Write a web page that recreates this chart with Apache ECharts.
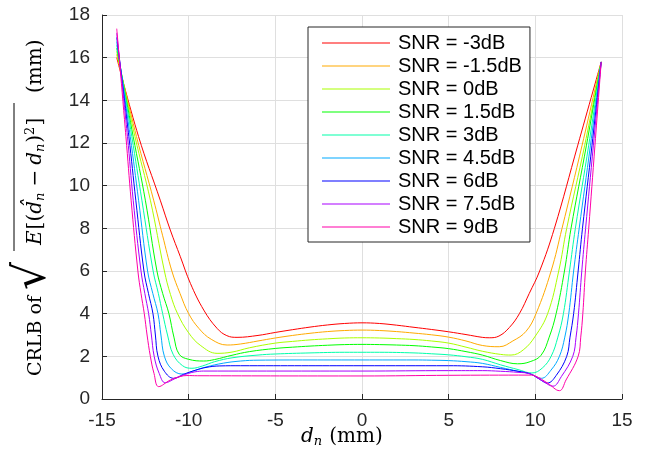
<!DOCTYPE html>
<html>
<head>
<meta charset="utf-8">
<script src="https://cdn.jsdelivr.net/npm/echarts@6/dist/echarts.min.js"></script>
<style>html,body{margin:0;padding:0;background:#fff}#c{width:648px;height:465px}</style>
</head>
<body>
<div id="c"></div>
<script>
// Series names (legend)
const seriesNames = ['SNR = -3dB','SNR = -1.5dB','SNR = 0dB','SNR = 1.5dB','SNR = 3dB','SNR = 4.5dB','SNR = 6dB','SNR = 7.5dB','SNR = 9dB'];
const seriesColors = ['#ff0000','#ffaa00','#aaff00','#00ff00','#00ffaa','#00aaff','#0000ff','#aa00ff','#ff00aa'];
// Axis ticks
const xTicks = [-15,-10,-5,0,5,10,15];
const yTicks = [0,2,4,6,8,10,12,14,16,18];

// [d_n (mm), CRLB (mm)] pairs
const snrM3 = [[-14.15,16.0],[-12.89,12.3],[-11.64,9.32],[-11.06,7.92],[-10.48,6.67],[-9.9,5.42],[-9.13,4.17],[-8.36,3.31],[-7.8,2.97],[-7.21,2.89],[-6.0,2.98],[-5,3.12],[-4,3.25],[-3,3.37],[-2,3.47],[-1,3.54],[0,3.57],[1,3.54],[2,3.46],[3,3.36],[4,3.26],[5,3.15],[6,3.02],[6.94,2.89],[7.34,2.87],[7.9,2.95],[8.5,3.35],[9.08,4.0],[9.65,4.95],[10.25,6.0],[11.1,8.0],[12.45,11.9],[13.8,15.8]];
const snrM1p5 = [[-14.15,16.15],[-13.01,12.3],[-12.02,9.32],[-11.5,7.65],[-10.97,6.0],[-10.5,4.95],[-10.0,4.0],[-9.4,3.3],[-8.7,2.8],[-7.78,2.53],[-7,2.58],[-6,2.72],[-5,2.86],[-4,2.98],[-3,3.08],[-2,3.16],[-1,3.21],[0,3.23],[1,3.21],[2,3.16],[3,3.09],[4,3.01],[5,2.9],[6,2.72],[6.94,2.51],[7.92,2.45],[8.7,2.72],[9.46,3.17],[10.04,4.0],[10.91,6.0],[11.54,8.0],[12.7,11.9],[13.8,15.8]];
const snr0 = [[-14.15,16.3],[-13.1,12.3],[-12.21,9.32],[-11.4,6.0],[-11.05,4.9],[-10.64,4.0],[-10.0,3.1],[-9.3,2.5],[-8.36,2.14],[-7.5,2.2],[-6.5,2.4],[-5,2.62],[-4,2.7],[-3,2.77],[-2,2.82],[-1,2.86],[0,2.87],[1,2.86],[2,2.83],[3,2.79],[4,2.72],[5,2.62],[6,2.43],[6.94,2.24],[8.0,2.09],[8.6,2.06],[9.3,2.3],[10.0,2.95],[10.71,4.0],[11.35,6.0],[11.81,8.0],[12.85,11.9],[13.8,15.8]];
const snr1p5 = [[-14.15,16.45],[-13.2,12.3],[-12.5,9.32],[-11.83,6.0],[-11.5,4.95],[-11.14,4.0],[-10.85,2.9],[-10.55,2.1],[-10.0,1.86],[-9.13,1.78],[-8.5,1.85],[-7.5,2.05],[-6.5,2.22],[-5,2.37],[-4,2.43],[-3,2.48],[-2,2.52],[-1,2.55],[0,2.56],[1,2.55],[2,2.53],[3,2.5],[4,2.44],[5,2.36],[6,2.22],[6.94,2.06],[8.0,1.8],[8.98,1.65],[9.7,1.75],[10.33,2.05],[10.8,2.9],[11.2,4.0],[11.68,6.0],[12.06,8.0],[12.95,11.9],[13.8,15.8]];
const snr3 = [[-14.15,16.6],[-13.28,12.3],[-12.7,9.32],[-12.05,6.0],[-11.75,4.95],[-11.5,4.0],[-11.22,3.0],[-10.9,2.1],[-10.35,1.56],[-9.81,1.44],[-9.2,1.55],[-8.5,1.75],[-7.5,1.93],[-6,2.06],[-5,2.11],[-3,2.16],[-1,2.19],[0,2.19],[1,2.19],[3,2.16],[4,2.12],[5,2.07],[6,1.98],[6.94,1.86],[8,1.6],[9,1.38],[9.8,1.22],[10.4,1.45],[10.91,2.0],[11.3,2.9],[11.62,4.0],[11.97,6.0],[12.31,8.0],[13.08,11.9],[13.8,15.8]];
const snr4p5 = [[-14.15,16.75],[-13.37,12.3],[-12.89,9.32],[-12.37,6.0],[-12.07,4.95],[-11.77,4.0],[-11.6,3.0],[-11.4,2.0],[-11.0,1.42],[-10.39,1.17],[-9.8,1.3],[-9,1.5],[-8,1.68],[-7,1.78],[-6,1.82],[-3,1.83],[0,1.83],[3,1.83],[4,1.82],[5,1.8],[6,1.75],[6.94,1.67],[8,1.48],[9,1.3],[9.7,1.18],[10.35,0.97],[10.9,1.35],[11.39,2.0],[11.7,2.9],[11.93,4.0],[12.21,6.0],[12.53,8.0],[13.18,11.9],[13.8,15.8]];
const snr6 = [[-14.15,16.95],[-13.45,12.3],[-13.05,9.32],[-12.58,6.0],[-12.32,4.95],[-12.06,4.0],[-11.92,3.0],[-11.77,2.0],[-11.4,1.3],[-10.87,0.97],[-10.3,1.15],[-9.6,1.35],[-9,1.48],[-8.2,1.55],[-7,1.56],[0,1.56],[5,1.56],[6.94,1.51],[8,1.42],[9,1.3],[9.7,1.18],[10.2,0.95],[10.7,0.75],[11.2,1.1],[11.81,2.0],[12.0,2.9],[12.21,4.0],[12.47,6.0],[12.72,8.0],[13.27,11.9],[13.8,15.8]];
const snr7p5 = [[-14.15,17.15],[-13.53,12.3],[-13.2,9.32],[-12.75,6.0],[-12.53,4.95],[-12.31,4.0],[-12.15,3.0],[-11.99,2.0],[-11.7,1.2],[-11.35,0.76],[-10.8,0.95],[-10.2,1.15],[-9.5,1.29],[-9,1.31],[0,1.31],[5,1.33],[6.94,1.33],[8,1.3],[9,1.25],[9.7,1.18],[10.4,0.85],[11.02,0.6],[11.5,1.05],[12.16,2.0],[12.35,2.9],[12.49,4.0],[12.68,6.0],[12.9,8.0],[13.35,11.9],[13.8,15.8]];
const snr9 = [[-14.15,17.36],[-13.62,12.3],[-13.32,9.32],[-12.93,6.0],[-12.75,4.95],[-12.56,4.0],[-12.4,3.0],[-12.21,2.0],[-12.0,1.2],[-11.73,0.58],[-11.06,0.89],[-10.5,1.05],[-10.1,1.1],[-9.5,1.09],[0,1.08],[5,1.11],[9.7,1.12],[10.0,1.08],[10.7,0.75],[11.39,0.39],[11.77,0.89],[12.47,2.0],[12.62,2.9],[12.74,4.0],[12.89,6.0],[13.08,8.0],[13.44,11.9],[13.8,15.8]];
const seriesData = [snrM3, snrM1p5, snr0, snr1p5, snr3, snr4p5, snr6, snr7p5, snr9];

const axisColor = '#262626';
const gridColor = '#dfdfdf';
const sansFont = '"Liberation Sans", Arial, Helvetica, sans-serif';
const serifFont = '"DejaVu Serif", "Liberation Serif", serif';

const chart = echarts.init(document.getElementById('c'), null, {renderer: 'canvas'});
const option = {
  animation: false,
  backgroundColor: '#ffffff',
  grid: {left: 102, right: 26, top: 15, bottom: 66, containLabel: false},
  xAxis: {
    type: 'value', min: xTicks[0], max: xTicks[xTicks.length - 1], interval: 5,
    axisLine: {show: true, onZero: false, lineStyle: {color: axisColor, width: 1}},
    axisTick: {show: true, inside: true, length: 5, lineStyle: {color: axisColor}},
    axisLabel: {color: axisColor, fontSize: 19, fontFamily: sansFont, margin: 12},
    splitLine: {show: true, lineStyle: {color: gridColor, width: 1}}
  },
  yAxis: {
    type: 'value', min: yTicks[0], max: yTicks[yTicks.length - 1], interval: 2,
    axisLine: {show: true, onZero: false, lineStyle: {color: axisColor, width: 1}},
    axisTick: {show: true, inside: true, length: 5, lineStyle: {color: axisColor}},
    axisLabel: {color: axisColor, fontSize: 19, fontFamily: sansFont, margin: 12},
    splitLine: {show: true, lineStyle: {color: gridColor, width: 1}}
  },
  legend: {
    show: true, orient: 'vertical', left: 308, top: 27,
    icon: 'rect', itemWidth: 68, itemHeight: 1.2, itemGap: 3,
    padding: [6, 8, 5, 14],
    backgroundColor: '#ffffff', borderColor: axisColor, borderWidth: 1, borderRadius: 0,
    textStyle: {color: '#000', fontSize: 20, fontFamily: sansFont, lineHeight: 20, padding: [0, 0, 0, 3]},
    data: seriesNames
  },
  series: seriesData.map((d, i) => ({
    name: seriesNames[i], type: 'line', data: d, showSymbol: false, symbol: 'none',
    smooth: 0.4,
    lineStyle: {color: seriesColors[i], width: 1}, itemStyle: {color: seriesColors[i]},
    z: 3 + i
  })),
  graphic: [
    {
      type: 'group', x: 36, y: 376, rotation: Math.PI / 2, silent: true,
      children: [
        {type: 'text', x: 0, y: 0, style: {text: 'CRLB of', font: '19px ' + serifFont, fill: '#000', align: 'left', verticalAlign: 'middle'}},
        {type: 'text', x: 86, y: -2, style: {text: '\u221A', font: '44px "DejaVu Serif", serif', fill: '#000', align: 'left', verticalAlign: 'middle'}},
        {type: 'line', shape: {x1: 125, y1: -22, x2: 273, y2: -22}, style: {stroke: '#000', lineWidth: 1}},
        {type: 'text', x: 131, y: 0, style: {
          text: '{e|E}{a|[(}{i|d\u0302}{s|n}{m|\u2212}{i|d}{s|n}{a|)}{p|2}{a|]}',
          fill: '#000', align: 'left', verticalAlign: 'middle',
          rich: {
            a: {font: '20px ' + serifFont, fill: '#000'},
            e: {font: 'italic 20px ' + serifFont, fill: '#000', padding: [0, 1, 0, 0]},
            i: {font: 'italic 20px ' + serifFont, fill: '#000'},
            m: {font: '20px ' + serifFont, fill: '#000', padding: [0, 5, 0, 5]},
            s: {font: 'italic 13px ' + serifFont, fill: '#000', padding: [10, 1, 0, 0]},
            p: {font: '13px ' + serifFont, fill: '#000', padding: [0, 1, 10, 0]}
          }
        }},
        {type: 'text', x: 283, y: 0, style: {text: '(mm)', font: '20px ' + serifFont, fill: '#000', align: 'left', verticalAlign: 'middle'}}
      ]
    },
    {
      type: 'text', x: 301, y: 437, silent: true,
      style: {
        text: '{i|d}{s|n}{a|(mm)}', align: 'left', verticalAlign: 'middle',
        rich: {
          a: {font: '20px ' + serifFont, fill: '#000'},
          i: {font: 'italic 20px ' + serifFont, fill: '#000'},
          s: {font: 'italic 13px ' + serifFont, fill: '#000', padding: [10, 7, 0, 0]}
        }
      }
    }
  ]
};
chart.setOption(option);
</script>
</body>
</html>
